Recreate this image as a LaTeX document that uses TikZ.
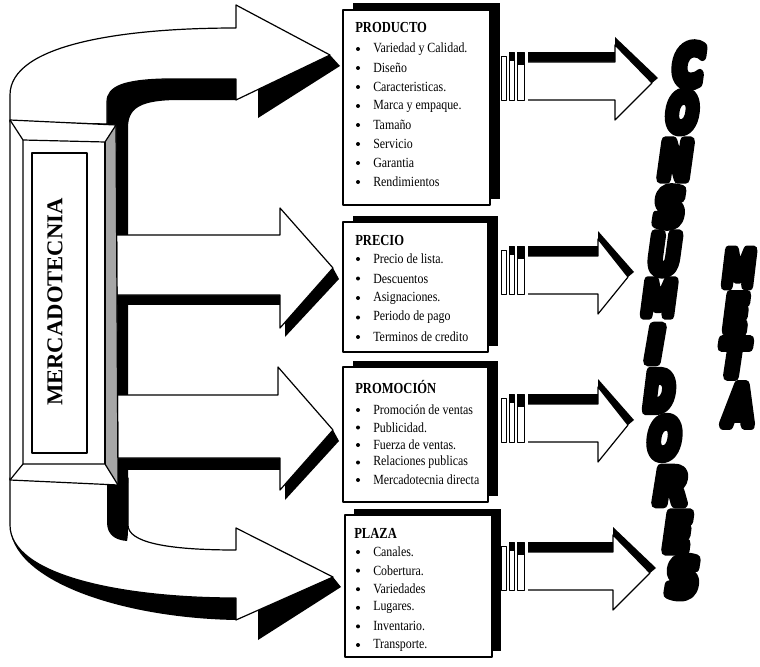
\documentclass[tikz,border=0pt]{standalone}
\usepackage{fontspec}
\setmainfont{Liberation Serif}
\newfontfamily\boxfont{Liberation Serif}[FakeStretch=0.85]
\newfontfamily\ttlfont{Liberation Serif}[FakeStretch=0.82]
\newfontfamily\heavyfont{DejaVu Sans}[UprightFont={* Bold},FakeSlant=0.18,FakeBold=20]
\usetikzlibrary{calc}
\newlength\pxu
\setlength\pxu{0.75pt}
\newcommand\heavyletter[3]{\resizebox{#1\pxu}{#2\pxu}{\heavyfont #3}}
\newcommand\rarrow[4]{%
  \fill[black] (528,{#1-31}) rectangle (#2,{#1-20});
  \fill[black] (#2,{#1-38}) -- (#2,{#1-46}) -- ({#3+6},{#1-5}) -- (#3,#1) -- cycle;
  \draw[face] (528,{#1-21}) -- (#2,{#1-21}) -- (#2,{#1-38}) -- (#3,#1) -- (#2,{#1+37}) -- (#2,{#1+17}) -- (528,{#1+17});
  \draw[stripe] (501,{#1-27}) rectangle (506,{#1+17});
  \draw[stripe] (509,{#1-31}) rectangle (514,{#1+17});
  \draw[stripe] (517,{#1-31}) rectangle (524,{#1+17});
  \fill[black] (509,{#1-31}) rectangle (514,{#1-22});
  \fill[black] (517,{#1-31}) rectangle (524,{#1-18});
  \coordinate (#4) at (#3,#1);
}
\begin{document}
\begin{tikzpicture}[x=0.75pt,y=-0.75pt,line join=round,
  face/.style={fill=white,draw=black,line width=0.9pt},
  stripe/.style={fill=white,draw=black,line width=0.6pt},
  boxface/.style={draw=black,fill=white,line width=0.9pt,inner sep=0},
  boxshadow/.style={fill=black,inner sep=0},
  ttl/.style={anchor=west,inner sep=0,font=\ttlfont\fontsize{11.5}{13}\selectfont\bfseries},
  itm/.style={anchor=west,inner sep=0,font=\boxfont\fontsize{10.5}{12}\selectfont},
  bul/.style={circle,fill=black,inner sep=0,minimum size=3pt},
  big/.style={inner sep=0}]
\useasboundingbox (0,0) rectangle (760,667);

% ---------- left arrows: shadows ----------
\fill[black] (236,79) -- (165,79) .. controls (125,80) and (107,86) .. (107,102) -- (107,483) -- (128,483) -- (128,128) .. controls (128,108) and (140,100) .. (180,100) -- (236,100) -- cycle;
\fill[black] (258,89) -- (330,55) -- (340,66) -- (258,118) -- cycle;
% top arrow
\draw[face] (10,122) -- (10,95) .. controls (10,45) and (120,28) .. (236,28) -- (236,5) -- (330,55) -- (236,100) -- (236,79) -- (165,79) .. controls (125,80) and (107,86) .. (107,102) -- (107,124) -- cycle;
% middle arrow 1
\fill[black] (118,290) rectangle (280,305);
\fill[black] (285,322) -- (333,268) -- (339,279) -- (285,337) -- cycle;
\draw[face] (112,235) -- (280,235) -- (280,208) -- (333,268) -- (280,328) -- (280,295) -- (112,295) -- cycle;
% middle arrow 2
\fill[black] (118,450) rectangle (280,470);
\fill[black] (285,484) -- (333,430) -- (339,441) -- (285,500) -- cycle;
\draw[face] (112,395) -- (278,395) -- (278,367) -- (333,430) -- (280,490) -- (280,458) -- (112,458) -- cycle;
% bottom arrow
\fill[black] (10,525) .. controls (10,580) and (120,618) .. (236,620) -- (236,598) -- cycle;
\fill[black] (258,610) -- (333,577) -- (341,587) -- (258,640) -- cycle;
\draw[face] (10,478) -- (10,525) .. controls (10,575) and (120,598) .. (236,598) -- (236,620) -- (333,577) -- (236,528) -- (236,550) .. controls (165,550) and (128,542) .. (128,525) -- (128,478) -- cycle;
\fill[black] (107,478) -- (107,522) .. controls (107,534) and (114,540) .. (127,541) .. controls (128,537) and (128,532) .. (128,525) -- (128,478) -- cycle;

% ---------- MERCADOTECNIA frame ----------
\draw[face] (10,120) -- (116,125) -- (118,485) -- (10,480) -- cycle;
\fill[black!35] (116,125) -- (118,485) -- (105,464) -- (105,142) -- cycle;
\draw[line width=0.9pt] (10,120) -- (23,140) -- (105,142) -- (116,125);
\draw[line width=0.9pt] (23,140) -- (23,464) -- (10,480);
\draw[line width=0.9pt] (23,464) -- (105,464) -- (118,485);
\draw[line width=0.9pt] (105,142) -- (105,464);
\draw[line width=0.9pt] (116,125) -- (118,485);
\node[boxface,minimum width=41.25pt,minimum height=225pt] (mercbox) at (59.5,303) {};
\node[rotate=90,inner sep=0,font=\bfseries\fontsize{17}{20}\selectfont] (merc) at (55,302) {MERCADOTECNIA};

% ---------- boxes ----------
\node[boxshadow,minimum width=110.25pt,minimum height=146.25pt] (prods) at (426,101) {};
\node[boxface,minimum width=110.25pt,minimum height=146.25pt] (prod) at (416.5,107.5) {};
\node[boxshadow,minimum width=108.75pt,minimum height=97.5pt] (precs) at (425,281) {};
\node[boxface,minimum width=108.75pt,minimum height=97.5pt] (prec) at (415.5,287) {};
\node[boxshadow,minimum width=108.75pt,minimum height=101.25pt] (proms) at (425,428.5) {};
\node[boxface,minimum width=108.75pt,minimum height=101.25pt] (prom) at (415.5,434.5) {};
\node[boxshadow,minimum width=110.25pt,minimum height=106.5pt] (plazs) at (427,580) {};
\node[boxface,minimum width=110.25pt,minimum height=106.5pt] (plaz) at (418.5,586) {};

\node[ttl] (prodt) at (355,27) {PRODUCTO};
\foreach \t [count=\i] in {Variedad y Calidad.,Diseño,Caracteristicas.,Marca y empaque.,Tamaño,Servicio,Garantia,Rendimientos}{
  \node[bul] (prodb\i) at (358,{49+(\i-1)*19}) {};
  \node[itm] (prodi\i) at (373,{49+(\i-1)*19}) {\t};
}
\node[ttl] (prect) at (355,240) {PRECIO};
\foreach \t [count=\i] in {Precio de lista.,Descuentos,Asignaciones.,Periodo de pago,Terminos de credito}{
  \node[bul] (precb\i) at (358,{259+(\i-1)*19.5}) {};
  \node[itm] (preci\i) at (373,{259+(\i-1)*19.5}) {\t};
}
\node[ttl] (promt) at (355,387) {PROMOCIÓN};
\foreach \t [count=\i] in {Promoción de ventas,Publicidad.,Fuerza de ventas.,Relaciones publicas,Mercadotecnia directa}{
  \node[bul] (promb\i) at (358,{410+(\i-1)*17.5}) {};
  \node[itm] (promi\i) at (373,{410+(\i-1)*17.5}) {\t};
}
\node[ttl] (plazt) at (354,533) {PLAZA};
\foreach \t [count=\i] in {Canales.,Cobertura.,Variedades,Lugares.,Inventario.,Transporte.}{
  \node[bul] (plazb\i) at (358,{552+(\i-1)*18.6}) {};
  \node[itm] (plazi\i) at (373,{552+(\i-1)*18.6}) {\t};
}

% ---------- right arrows ----------
\rarrow{83}{615}{652}{ra1}
\rarrow{277}{598}{628}{ra2}
\rarrow{425}{598}{628}{ra3}
\rarrow{573}{613}{650}{ra4}

% ---------- CONSUMIDORES ----------
\foreach \ch/\x/\y/\w/\h [count=\i] in {C/686/65/30/40,O/680/112/31/38,N/673/160/33/37,S/667/207/30/37,U/662/254/32/38,M/657/298/34/34,I/652/344/17/35,D/657/391/30/38,O/662/438/32/39,R/668/486/33/35,E/675/532/27/37,S/680/577/32/38}
  \node[big] (cons\i) at (\x,\y) {\heavyletter{\w}{\h}{\ch}};
% ---------- META ----------
\foreach \ch/\x/\y/\w/\h [count=\i] in {M/737/268/32/35,E/734/313/24/36,T/731/358/28/36,A/737/405/29/39}
  \node[big] (meta\i) at (\x,\y) {\heavyletter{\w}{\h}{\ch}};
\end{tikzpicture}
\end{document}
